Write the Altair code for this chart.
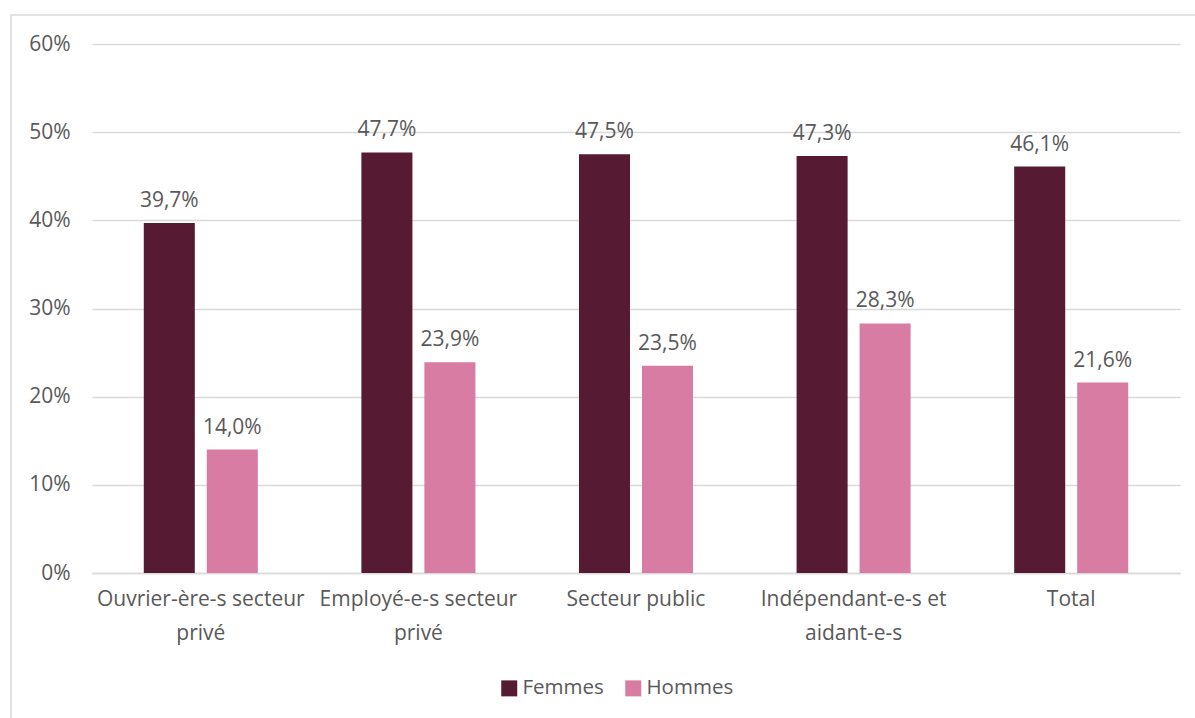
import altair as alt
import pandas as pd

categories = ["Ouvrier-ère-s secteur|privé", "Employé-e-s secteur|privé", "Secteur public",
              "Indépendant-e-s et|aidant-e-s", "Total"]
femmes = [39.7, 47.7, 47.5, 47.3, 46.1]
hommes = [14.0, 23.9, 23.5, 28.3, 21.6]
series = ["Femmes", "Hommes"]
colors = ["#561a33", "#d87ca4"]
y_ticks = [0, 10, 20, 30, 40, 50, 60]

rows = []
for c, f, h in zip(categories, femmes, hommes):
    rows.append({"cat": c, "serie": "Femmes", "val": f})
    rows.append({"cat": c, "serie": "Hommes", "val": h})
df = pd.DataFrame(rows)
df["label"] = df["val"].map(lambda v: f"{v:.1f}%".replace(".", ","))

font = "Open Sans"
gray = "#595959"
grid = "#d9d9d9"
fs = 21

x = alt.X("cat:N", sort=categories, title=None,
          scale=alt.Scale(paddingInner=0.476, paddingOuter=0.238),
          axis=alt.Axis(labelExpr="split(datum.label, '|')", labelAngle=0, labelFontSize=fs,
                        labelColor=gray, labelFont=font, labelPadding=15, labelLineHeight=34,
                        labelBaseline="top", domain=True, domainColor=grid, domainWidth=1.5,
                        ticks=False, labelLimit=300))
xoff = alt.XOffset("serie:N", sort=series, scale=alt.Scale(paddingInner=0.19))
y = alt.Y("val:Q", title=None, scale=alt.Scale(domain=[0, 60], nice=False),
          axis=alt.Axis(values=y_ticks, labelExpr="datum.value + '%'", grid=True,
                        gridColor=grid, gridWidth=1.5, domain=False, ticks=False,
                        labelFontSize=fs, labelColor=gray, labelFont=font, labelPadding=22))
color = alt.Color("serie:N", sort=series, scale=alt.Scale(domain=series, range=colors),
                  legend=alt.Legend(title=None, orient="none", legendX=407, legendY=634,
                                    direction="horizontal",
                                    symbolType="square", symbolSize=256, symbolStrokeWidth=0,
                                    labelFontSize=20.5, labelColor=gray, labelFont=font,
                                    columnPadding=19, symbolOffset=0, labelOffset=3))

base = alt.Chart(df)
bars = base.mark_bar().encode(x=x, xOffset=xoff, y=y, color=color)
labels = base.mark_text(dy=-16, baseline="alphabetic", fontSize=fs, color=gray, font=font).encode(
    x=x, xOffset=xoff, y=y, text="label:N")

border = alt.Chart(pd.DataFrame({"a": [0]})).mark_rect(
    fill=None, stroke=grid, strokeWidth=1.5).encode(
    x=alt.value(-81), x2=alt.value(1200), y=alt.value(-29), y2=alt.value(800))

chart = alt.layer(border, bars, labels).properties(
    width=1088, height=529,
    autosize=alt.AutoSizeParams(type="none"),
    padding={"left": 92, "top": 44, "right": 15, "bottom": 145},
    background="white",
).configure_view(stroke=None)

chart.save("out.html", embed_options={"renderer": "svg", "actions": False})
